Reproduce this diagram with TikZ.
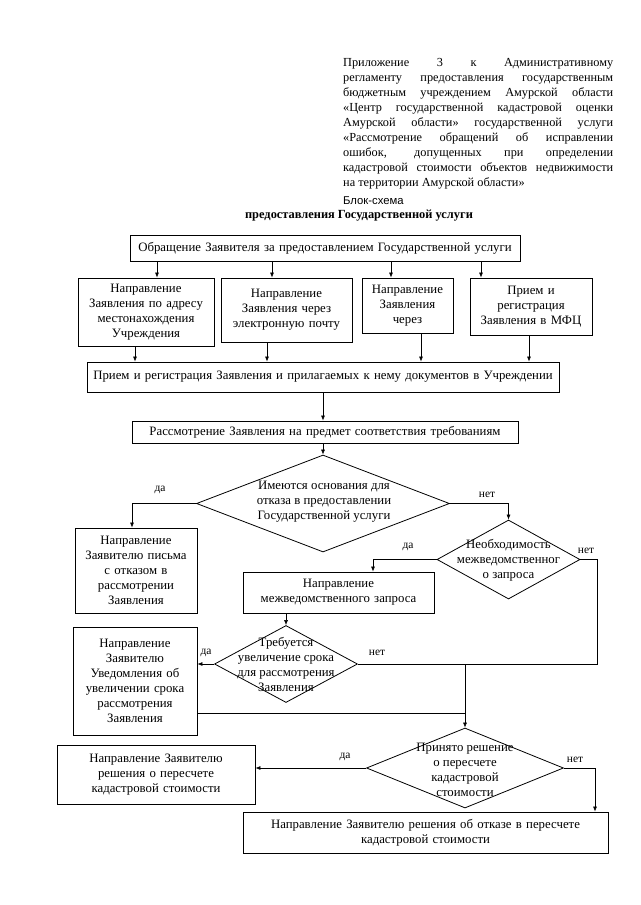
\documentclass[tikz,border=0pt]{standalone}
\usepackage{fontspec}
\setmainfont{Liberation Serif}
\setsansfont{Liberation Sans}
\usetikzlibrary{shapes.geometric,arrows.meta}
\newcommand\bxf{\fontsize{12.8}{15}\selectfont}
\newcommand\hdf{\fontsize{12.3}{15}\selectfont}
\begin{document}
\begin{tikzpicture}[x=1pt,y=-1pt,
  box/.style={draw, line width=0.9pt, inner sep=0pt, align=center, font=\bxf},
  dia/.style={draw, diamond, line width=0.8pt, inner sep=0pt},
  dtext/.style={inner sep=0pt, align=center, font=\bxf},
  arr/.style={-{Latex[length=5pt,width=4pt]}, line width=0.6pt},
  ln/.style={line width=0.6pt},
  lbl/.style={font=\fontsize{11.5}{12}\selectfont, inner sep=1pt}]
\useasboundingbox (0,0) rectangle (640,905);
\fill[white] (0,0) rectangle (640,905);

% header
\node[anchor=north west, inner sep=0pt, text width=270pt, align=justify, font=\hdf] (hdr) at (343,58)
 {Приложение 3 к Административному\linebreak
  регламенту предоставления государственным\linebreak
  бюджетным учреждением Амурской области\linebreak
  «Центр государственной кадастровой оценки\linebreak
  Амурской области» государственной услуги\linebreak
  «Рассмотрение обращений об исправлении\linebreak
  ошибок, допущенных при определении\linebreak
  кадастровой стоимости объектов недвижимости\linebreak
  на территории Амурской области»};
\node[anchor=west, inner sep=0pt, font=\sffamily\fontsize{11.3}{13}\selectfont] (bs) at (343,201) {Блок-схема};
\node[inner sep=0pt, font=\bfseries\fontsize{12.4}{13}\selectfont] (ttl) at (359,216) {предоставления Государственной услуги};

% boxes
\node[box, minimum width=390, minimum height=26, text width=388pt] (t0) at (325,248) {Обращение Заявителя за предоставлением Государственной услуги};
\node[box, minimum width=136, minimum height=68, text width=132pt] (b1) at (146,312) {Направление\\ Заявления по адресу\\ местонахождения\\ Учреждения};
\node[box, minimum width=131, minimum height=64, text width=127pt] (b2) at (286.5,310) {Направление\\ Заявления через\\ электронную почту};
\node[box, minimum width=91, minimum height=55, text width=88pt] (b3) at (407.5,305.5) {Направление\\ Заявления\\ через};
\node[box, minimum width=122, minimum height=57, text width=119pt] (b4) at (531,306.5) {Прием и\\ регистрация\\ Заявления в МФЦ};
\node[box, minimum width=472, minimum height=30, text width=470pt] (r) at (323,377) {Прием и регистрация Заявления и прилагаемых к нему документов в Учреждении};
\node[box, minimum width=386, minimum height=22, text width=384pt] (c1) at (325,432) {Рассмотрение Заявления на предмет соответствия требованиям};

\node[dia, minimum width=253, minimum height=97] (d1) at (323,503.5) {};
\node[dtext] (d1t) at (324,502) {Имеются основания для\\ отказа в предоставлении\\ Государственной услуги};

\node[box, minimum width=122, minimum height=85, text width=119pt] (b5) at (136,570.5) {Направление\\ Заявителю письма\\ с отказом в\\ рассмотрении\\ Заявления};

\node[dia, minimum width=143, minimum height=79] (d2) at (508.5,559.5) {};
\node[dtext] (d2t) at (508.5,560) {Необходимость\\ межведомственног\\ о запроса};

\node[box, minimum width=191, minimum height=41, text width=188pt] (b6) at (338.5,592.5) {Направление\\ межведомственного запроса};

\node[dia, minimum width=143, minimum height=77] (d3) at (286,664) {};
\node[dtext] (d3t) at (286,664) {Требуется\\ увеличение срока\\ для рассмотрения\\ Заявления};

\node[box, minimum width=124, minimum height=108, text width=121pt] (b7) at (135,681) {Направление\\ Заявителю\\ Уведомления об\\ увеличении срока\\ рассмотрения\\ Заявления};

\node[dia, minimum width=197, minimum height=80] (d4) at (465,768) {};
\node[dtext] (d4t) at (465,770) {Принято решение\\ о пересчете\\ кадастровой\\ стоимости};

\node[box, minimum width=198, minimum height=59, text width=195pt] (b8) at (156,774.5) {Направление Заявителю\\ решения о пересчете\\ кадастровой стоимости};
\node[box, minimum width=365, minimum height=41, text width=362pt] (b9) at (425.5,832.5) {Направление Заявителю решения об отказе в пересчете\\ кадастровой стоимости};

% helper coordinates
\coordinate (xa) at (157,0);
\coordinate (xb) at (272,0);
\coordinate (xc) at (391,0);
\coordinate (xd) at (481,0);
\coordinate (xe) at (135,0);
\coordinate (xf) at (267,0);
\coordinate (xg) at (421,0);
\coordinate (xh) at (529,0);
\coordinate (xm) at (323,0);
\coordinate (xn) at (132,0);
\coordinate (xo) at (373,0);
\coordinate (xp) at (597,0);
\coordinate (xj) at (465,0);
\coordinate (yq) at (0,713);
\coordinate (xr) at (595,0);

% connectors
\draw[arr] (t0.south -| xa) -- (b1.north -| xa);
\draw[arr] (t0.south -| xb) -- (b2.north -| xb);
\draw[arr] (t0.south -| xc) -- (b3.north -| xc);
\draw[arr] (t0.south -| xd) -- (b4.north -| xd);
\draw[arr] (b1.south -| xe) -- (r.north -| xe);
\draw[arr] (b2.south -| xf) -- (r.north -| xf);
\draw[arr] (b3.south -| xg) -- (r.north -| xg);
\draw[arr] (b4.south -| xh) -- (r.north -| xh);
\draw[arr] (r.south -| xm) -- (c1.north -| xm);
\draw[arr] (c1.south -| xm) -- (d1.north);
\draw[arr] (d1.west) -| (b5.north -| xn);
\draw[arr] (d1.east) -| (d2.north);
\draw[arr] (d2.west) -| (b6.north -| xo);
\draw[ln] (d2.east) -| (xp |- d3.east) -- (d3.east);
\draw[arr] (b6.south -| d3.north) -- (d3.north);
\draw[arr] (d3.west) -- (d3.west -| b7.east);
\draw[ln] (b7.east |- yq) -- (xj |- yq);
\draw[arr] (xj |- d3.east) -- (d4.north);
\draw[arr] (d4.west) -- (d4.west -| b8.east);
\draw[arr] (d4.east) -| (b9.north -| xr);

% labels
\node[lbl] (l1) at (160,490) {да};
\node[lbl] (l2) at (487,495) {нет};
\node[lbl] (l3) at (408,547) {да};
\node[lbl] (l4) at (586,551) {нет};
\node[lbl] (l5) at (206,653) {да};
\node[lbl] (l6) at (377,653) {нет};
\node[lbl] (l7) at (345,757) {да};
\node[lbl] (l8) at (575,760) {нет};
\end{tikzpicture}
\end{document}
